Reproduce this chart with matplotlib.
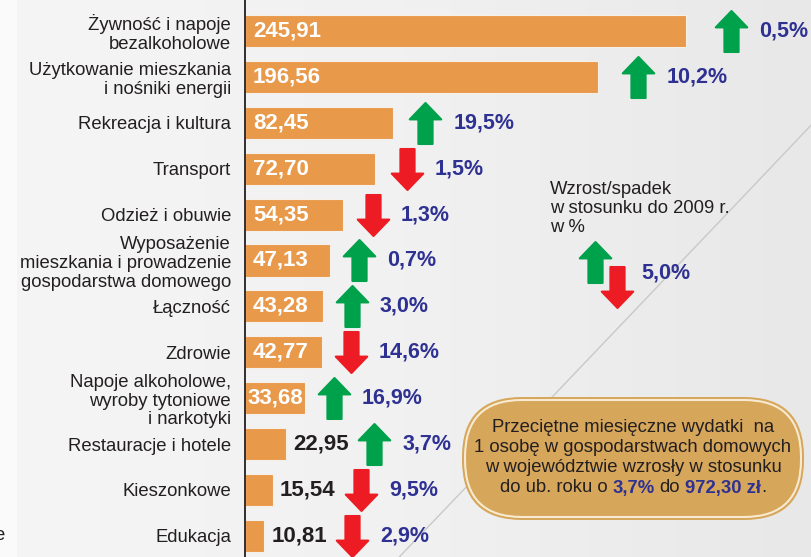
import numpy as np
import matplotlib.pyplot as plt
from matplotlib.path import Path
from matplotlib.markers import MarkerStyle
from matplotlib.patches import FancyBboxPatch, PathPatch, Rectangle
from matplotlib.colors import LinearSegmentedColormap

plt.rcParams['font.family'] = ['Liberation Sans', 'DejaVu Sans']

# data
categories = [
    'Żywność i napoje\nbezalkoholowe',
    'Użytkowanie mieszkania\ni nośniki energii',
    'Rekreacja i kultura',
    'Transport',
    'Odzież i obuwie',
    'Wyposażenie\nmieszkania i prowadzenie\ngospodarstwa domowego',
    'Łączność',
    'Zdrowie',
    'Napoje alkoholowe,\nwyroby tytoniowe\ni narkotyki',
    'Restauracje i hotele',
    'Kieszonkowe',
    'Edukacja',
]
values = [245.91, 196.56, 82.45, 72.70, 54.35, 47.13, 43.28, 42.77, 33.68, 22.95, 15.54, 10.81]
changes = [0.5, 10.2, 19.5, -1.5, -1.3, 0.7, 3.0, -14.6, 16.9, 3.7, -9.5, -2.9]
legend_change = 5.0
total_change = 3.7
total_value = 972.30

W, H = 812, 557
PX = 1.794      # pixels per zł
Y0, STEP = 31, 45.9
X0 = 245

ORANGE = '#E8994A'
GREEN = '#00A14B'
RED = '#ED1C24'
BLUE = '#2E3192'
DARK = '#231F20'


def pl(v, nd):
    return f'{v:.{nd}f}'.replace('.', ',')


def arrow_marker(up=True):
    v = [(0, 0.65), (0.5, 0.13), (0.225, 0.13), (0.225, -0.65),
         (-0.225, -0.65), (-0.225, 0.13), (-0.5, 0.13), (0, 0.65)]
    if not up:
        v = [(x, -y) for x, y in v]
    return MarkerStyle(Path(v, closed=True), joinstyle='round')


fig = plt.figure(figsize=(W / 100, H / 100), dpi=100)

# background
bg = fig.add_axes([0, 0, 1, 1])
bg.set_xlim(0, W)
bg.set_ylim(H, 0)
bg.axis('off')
cmap = LinearSegmentedColormap.from_list('bg', ['#F5F5F5', '#F1F1F1', '#E8E8E8'])
bg.imshow(np.linspace(0, 1, 256)[None, :], cmap=cmap, extent=[0, W, H, 0], aspect='auto')
bg.add_patch(Rectangle((0, 0), 17, H, color='#FAFAFA', lw=0))
curve = Path([(835, 100), (612, 335), (382, 575)], [Path.MOVETO, Path.CURVE3, Path.CURVE3])
bg.add_patch(PathPatch(curve, fc='none', ec='#C9C9C9', lw=1))
bg.text(4.5, 535, 'e', ha='right', va='center', fontsize=13.3, color=DARK)

# bars
ax = fig.add_axes([X0 / W, 0, 1 - X0 / W, 1])
ax.set_xlim(0, (W - X0) / PX)
ax.set_ylim((H - Y0) / STEP, -Y0 / STEP)
ax.patch.set_visible(False)
y = np.arange(len(values))
ax.barh(y, values, height=0.70, color=ORANGE, edgecolor='#F6F0EA', linewidth=0.8)
ax.set_yticks(y, categories, fontsize=13.3, color=DARK, linespacing=1.13)
ax.tick_params(axis='y', length=0, pad=10)
ax.set_xticks([])
for s in ['top', 'right', 'bottom']:
    ax.spines[s].set_visible(False)
ax.spines['left'].set_color(DARK)
ax.spines['left'].set_linewidth(1.3)

for i, (v, c) in enumerate(zip(values, changes)):
    if v > 30:
        pad = 8 if v * PX > 70 else 2.5
        ax.text(pad / PX, i, pl(v, 2), ha='left', va='center', fontsize=16,
                fontweight='bold', color='white')
        ax_x = v + (26 + 0.042 * v * PX) / PX
    else:
        ax.text(v + 7 / PX, i, pl(v, 2), ha='left', va='center', fontsize=16,
                fontweight='bold', color=DARK)
        ax_x = v + 88 / PX
    col = GREEN if c > 0 else RED
    ax.plot(ax_x, i, marker=arrow_marker(c > 0), markersize=29.5, color=col,
            mec=col, mew=1.5, clip_on=False)
    ax.text(ax_x + 28 / PX, i, pl(abs(c), 1) + '%', ha='left', va='center',
            fontsize=15.5, fontweight='bold', color=BLUE)

# legend
bg.text(550, 208.5, 'Wzrost/spadek\nw stosunku do 2009 r.\nw %', ha='left', va='center',
        fontsize=13.3, color=DARK, linespacing=1.13)
bg.plot(595, 262, marker=arrow_marker(True), markersize=29.5, color=GREEN, mec=GREEN, mew=1.5)
bg.plot(617, 287, marker=arrow_marker(False), markersize=29.5, color=RED, mec=RED, mew=1.5)
bg.text(641, 273, pl(legend_change, 1) + '%', ha='left', va='center', fontsize=15.5,
        fontweight='bold', color=BLUE)

# summary box
bg.add_patch(FancyBboxPatch((462, 397), 342, 123, boxstyle='round,pad=0,rounding_size=60',
                            fc='#D6A65A', ec='none'))
inner = FancyBboxPatch((465, 400), 336, 117, boxstyle='round,pad=0,rounding_size=57',
                       fc='none', ec='#F7EAD0', lw=1.5)
bg.add_patch(inner)
bcmap = LinearSegmentedColormap.from_list('box', ['#F6E6C6', '#EFD8AC', '#E9CB93', '#E2BC7C'])
im = bg.imshow(np.linspace(0, 1, 256)[:, None], cmap=bcmap, extent=[462, 804, 520, 397],
               aspect='auto')
im.set_clip_path(inner)

box_lines = ['Przeciętne miesięczne wydatki  na',
             '1 osobę w gospodarstwach domowych',
             'w województwie wzrosły w stosunku']
for k, line in enumerate(box_lines):
    bg.text(633, 427 + 20.5 * k, line, ha='center', va='center', fontsize=13.3, color=DARK)

renderer = fig.canvas.get_renderer()
pieces = [('do ub. roku o ', 'normal', DARK),
          (pl(total_change, 1) + '%', 'bold', BLUE),
          (' do ', 'normal', DARK),
          (pl(total_value, 2) + ' zł', 'bold', BLUE),
          ('.', 'normal', DARK)]


def measure(s, weight):
    t1 = bg.text(0, 0, '|' + s + '|', fontsize=13.3, fontweight=weight)
    t2 = bg.text(0, 0, '||', fontsize=13.3, fontweight=weight)
    w = t1.get_window_extent(renderer).width - t2.get_window_extent(renderer).width
    t1.remove()
    t2.remove()
    return w


widths = [measure(s, wt) for s, wt, _ in pieces]
x = 633 - sum(widths) / 2
for (s, wt, col), w in zip(pieces, widths):
    lead = len(s) - len(s.lstrip())
    off = measure(' ' * lead, wt) if lead else 0
    bg.text(x + off, 488, s.strip(), ha='left', va='center', fontsize=13.3,
            fontweight=wt, color=col)
    x += w

fig.savefig('out.png', dpi=100)
plt.close(fig)
